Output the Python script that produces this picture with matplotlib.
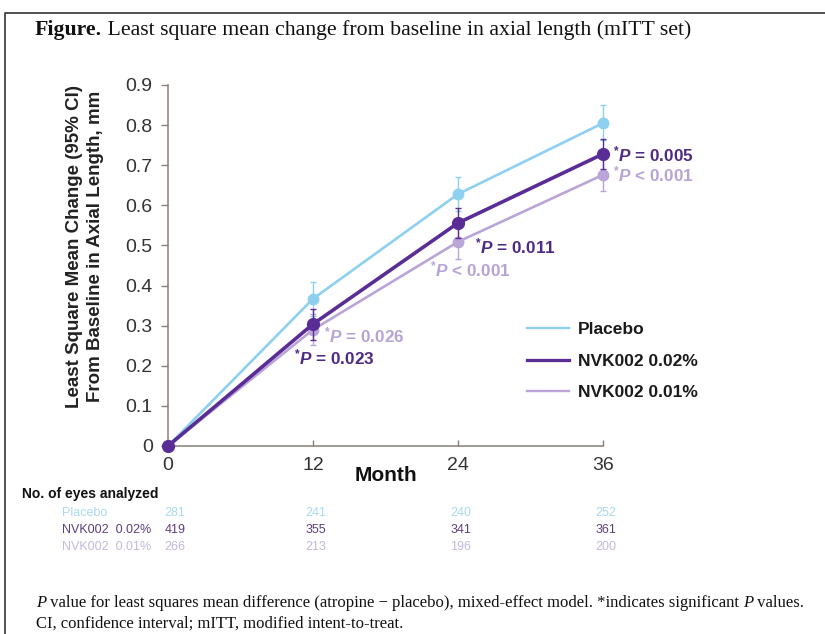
import numpy as np
import matplotlib; matplotlib.use("Agg")
import matplotlib.pyplot as plt
import matplotlib.transforms as mtrans
from matplotlib.lines import Line2D

plt.rcParams["font.family"] = ["Liberation Sans", "DejaVu Sans"]
plt.rcParams["mathtext.fontset"] = "custom"
plt.rcParams["mathtext.rm"] = "Liberation Sans:bold"
plt.rcParams["mathtext.it"] = "Liberation Sans:bold:italic"
plt.rcParams["mathtext.bf"] = "Liberation Sans:bold"

# data
months = [0, 12, 24, 36]
series = ["Placebo", "NVK002 0.02%", "NVK002 0.01%"]
placebo = [0, 0.367, 0.628, 0.805]
placebo_lo = [0, 0.325, 0.585, 0.762]
placebo_hi = [0, 0.409, 0.671, 0.850]
nvk02 = [0, 0.304, 0.556, 0.728]
nvk02_lo = [0, 0.265, 0.519, 0.690]
nvk02_hi = [0, 0.342, 0.593, 0.766]
nvk01 = [0, 0.290, 0.509, 0.676]
nvk01_lo = [0, 0.252, 0.466, 0.636]
nvk01_hi = [0, 0.330, 0.552, 0.716]
n_placebo = [281, 241, 240, 252]
n_nvk02 = [419, 355, 341, 361]
n_nvk01 = [266, 213, 196, 200]
# (month, value, text, series) for p-value labels
p_labels = [(12, 0.290, "= 0.026", 2), (12, 0.304, "= 0.023", 1),
            (24, 0.509, "< 0.001", 2), (24, 0.556, "= 0.011", 1),
            (36, 0.676, "< 0.001", 2), (36, 0.728, "= 0.005", 1)]

COL = ["#8dd0f0", "#5a2d96", "#b9a5d8"]
TXT = ["#a9d9f0", "#5e3f7c", "#c5b8d9"]
PCOL = {1: "#4e2a85", 2: "#b7a3d6"}
LW = [1.9, 2.6, 1.9]
MS = [7.5, 8.5, 7.5]
ZO = [3, 5, 4]
SPINE = "#8a7f79"

W, H = 825, 634
def fx(px): return px / W
def fy(py): return 1 - py / H

fig = plt.figure(figsize=(8.25, 6.34), dpi=100)
ax = fig.add_axes([fx(168), fy(446), fx(603 - 168), (446 - 85) / H])

vals = [placebo, nvk02, nvk01]
los = [placebo_lo, nvk02_lo, nvk01_lo]
his = [placebo_hi, nvk02_hi, nvk01_hi]
for i in range(3):
    y = np.array(vals[i]); lo = np.array(los[i]); hi = np.array(his[i])
    ax.errorbar(months[1:], y[1:], yerr=[y[1:] - lo[1:], hi[1:] - y[1:]], fmt="none",
                ecolor=COL[i], elinewidth=1.0, capsize=2.5, capthick=1.0, clip_on=False,
                zorder=ZO[i] - 0.5)
    ax.plot(months, y, color=COL[i], lw=LW[i], marker="o", ms=MS[i], clip_on=False,
            zorder=ZO[i], label=series[i])

ax.set_xlim(0, 36); ax.set_ylim(0, 0.9)
ax.set_xticks(months); ax.set_yticks(np.arange(0, 0.91, 0.1))
ax.set_yticklabels(["0"] + [f"{v:.1f}" for v in np.arange(0.1, 0.91, 0.1)])
for s in ("top", "right"): ax.spines[s].set_visible(False)
for s in ("left", "bottom"):
    ax.spines[s].set_color(SPINE); ax.spines[s].set_linewidth(1.1)
ax.tick_params(axis="y", direction="out", length=5, width=1, color=SPINE, pad=6,
               labelsize=14, labelcolor="#333333")
ax.tick_params(axis="x", direction="in", length=4.5, width=1, color=SPINE, pad=8,
               labelsize=14, labelcolor="#333333")

ax.text(0.5, -0.083, "Month", transform=ax.transAxes, ha="center", va="center",
        fontsize=15, fontweight="bold", color="#111111")
fig.text(fx(75), fy(246), "Least Square Mean Change (95% CI)", rotation=90, ha="center",
         va="center", fontsize=13.5, fontweight="bold", color="#222222")
fig.text(fx(96), fy(246), "From Baseline in Axial Length, mm", rotation=90, ha="center",
         va="center", fontsize=13.5, fontweight="bold", color="#222222")

# p-value labels
offs = {(12, 2): (8, -4), (12, 1): (-14, -24), (24, 2): (-20, -20), (24, 1): (12, -17),
        (36, 2): (7, 0), (36, 1): (7, 0)}
for m, v, t, s in p_labels:
    ax.annotate(r"$^{*}\mathit{P}$ " + t, xy=(m, v), xytext=offs[(m, s)], textcoords="offset points",
                ha="left", va="center", fontsize=12.3, fontweight="bold", color=PCOL[s],
                annotation_clip=False, zorder=10)

leg = ax.legend(handles=[Line2D([], [], color=COL[i], lw=LW[i] * 0.9) for i in range(3)],
                labels=series, loc="upper left", bbox_to_anchor=(fx(527), fy(322)),
                bbox_transform=fig.transFigure, frameon=False, borderpad=0, borderaxespad=0,
                handlelength=2.4, handletextpad=0.55, labelspacing=0.95,
                prop={"size": 12.5, "weight": "bold"})
for t in leg.get_texts(): t.set_color("#1a1a1a")

# number of eyes table
fig.text(fx(22), fy(494), "No. of eyes analyzed", fontsize=10, fontweight="bold", va="center",
         color="#111111")
tr = mtrans.blended_transform_factory(ax.transData, fig.transFigure)
rows = [n_placebo, n_nvk02, n_nvk01]
for r, (name, ns) in enumerate(zip(series, rows)):
    yy = fy(513 + 17 * r)
    fig.text(fx(62), yy, name.replace("002 ", "002  "), fontsize=9, va="center", color=TXT[r])
    for j, (m, n) in enumerate(zip(months, ns)):
        off = mtrans.ScaledTranslation((7 if j == 0 else 3) / 100, 0, fig.dpi_scale_trans)
        ax.text(m, yy, str(n), transform=tr + off, ha="center", va="center", fontsize=9,
                color=TXT[r], clip_on=False)

# frame lines of the figure panel
fig.add_artist(Line2D([fx(5), fx(5), 1], [0, fy(13), fy(13)], transform=fig.transFigure,
                      color="#333333", lw=1.2))

serif = ["Liberation Serif", "DejaVu Serif"]
t1 = fig.text(fx(35), fy(30), "Figure.", family=serif, fontsize=15.7, fontweight="bold",
              va="center", color="#111111")
ax.annotate(" Least square mean change from baseline in axial length (mITT set)", xy=(1, 0),
            xycoords=t1, va="bottom", family=serif, fontsize=15.7, color="#111111")

FS = 12.0
f1 = fig.text(fx(36), fy(603), "P", family=serif, fontsize=FS, style="italic", va="center",
              color="#111111")
f2 = ax.annotate(" value for least squares mean difference (atropine \u2212 placebo), mixed-effect model. *indicates significant ",
                 xy=(1, 0), xycoords=f1, va="bottom", family=serif, fontsize=FS, color="#111111")
f3 = ax.annotate("P", xy=(1, 0), xycoords=f2, va="bottom", family=serif, fontsize=FS,
                 style="italic", color="#111111")
ax.annotate(" values.", xy=(1, 0), xycoords=f3, va="bottom", family=serif, fontsize=FS,
            color="#111111")
fig.text(fx(36), fy(624), "CI, confidence interval; mITT, modified intent-to-treat.", family=serif,
         fontsize=FS, va="center", color="#111111")

fig.savefig("out.png", dpi=100)
